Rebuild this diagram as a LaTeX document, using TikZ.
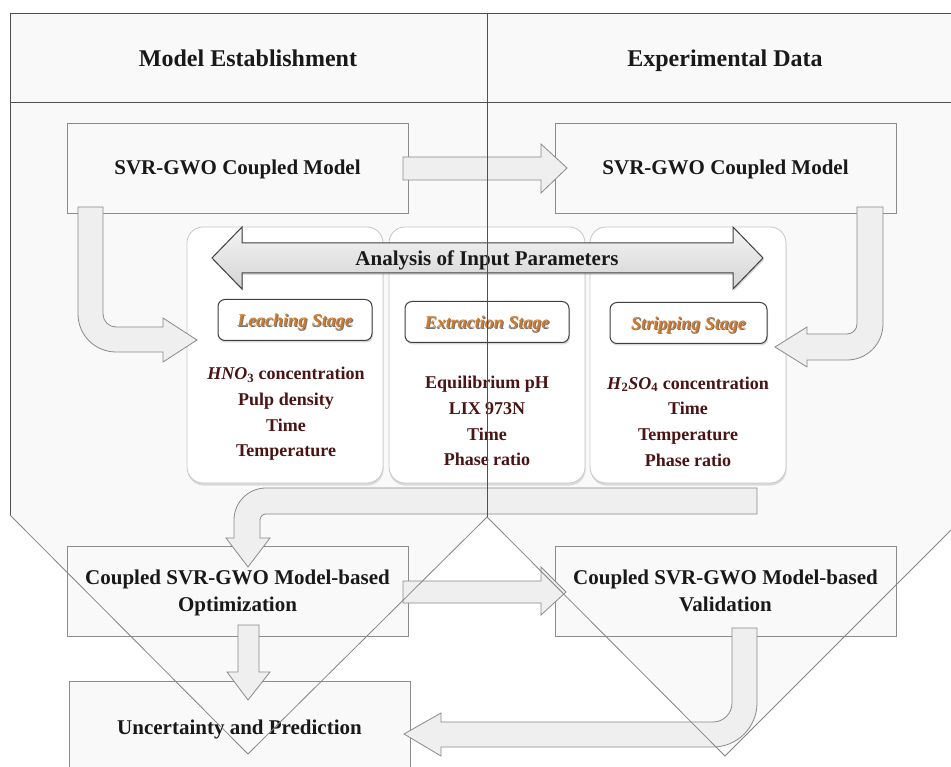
\documentclass[tikz,border=0pt]{standalone}
\usepackage{fontspec}
\setmainfont{Liberation Serif}
\usetikzlibrary{shadows}
\definecolor{bgfill}{HTML}{F9F9F9}
\definecolor{boxline}{HTML}{8C8C8C}
\definecolor{arrfill}{HTML}{EFEFEF}
\definecolor{arrline}{HTML}{8A8A8A}
\definecolor{frameline}{HTML}{505050}
\definecolor{diagline}{HTML}{858585}
\definecolor{parcol}{HTML}{4A1414}
\definecolor{stagecol}{HTML}{CF7B2E}
\newcommand\shtext[1]{\makebox[0pt][l]{\hspace{1pt}\raisebox{-1pt}{\color{black!55}#1}}{\color{stagecol}#1}}
\begin{document}
\begin{tikzpicture}[x=1pt,y=-1pt,
  box/.style={draw=boxline, fill=bgfill, line width=0.8pt, minimum width=341pt, minimum height=90pt, inner sep=0pt,
    font=\fontsize{21}{27}\selectfont\bfseries, align=center, text=black!90, text height=14pt, text depth=0pt},
  twoline/.style={text height=41pt, text depth=0pt},
  title/.style={font=\fontsize{24}{28}\selectfont\bfseries, text=black!90, text height=16pt, text depth=0pt},
  lbl/.style={font=\fontsize{21}{26}\selectfont\bfseries, align=center, text=black!90, text height=14pt, text depth=0pt},
  panel/.style={draw=black!22, fill=white, rounded corners=16pt, line width=0.8pt, minimum width=196pt, minimum height=256pt,
    drop shadow={opacity=0.25, shadow xshift=0.5pt, shadow yshift=-2.5pt}},
  stagebox/.style={draw=black!75, fill=white, rounded corners=7pt, line width=1pt, minimum height=41pt, inner sep=0pt,
    text height=13pt, text depth=0pt,
    drop shadow={opacity=0.3, shadow xshift=1pt, shadow yshift=-2pt}, font=\fontsize{18}{22}\selectfont\bfseries\itshape},
  params/.style={font=\fontsize{18}{25.7}\selectfont\bfseries, text=parcol, align=center},
  barrow/.style={fill=arrfill, draw=arrline, line width=0.8pt, line join=miter},
]
\useasboundingbox (0,0) rectangle (951,767);
\clip (0,0) rectangle (951,767);
\fill[white] (0,0) rectangle (951,767);
% background pentagons
\fill[bgfill] (10,13) -- (487,13) -- (487,517) -- (248,754) -- (10,515) -- cycle;
\fill[bgfill] (487,13) -- (963,13) -- (963,518) -- (725,756) -- (487,517) -- cycle;

% headers
\node[title] (h1) at (248,59) {Model Establishment};
\node[title] (h2) at (725,59) {Experimental Data};

% boxes
\node[box] (tl) at (237.5,168) {SVR-GWO Coupled Model};
\node[box] (tr) at (725.5,168) {SVR-GWO Coupled Model};
\node[box, twoline] (opt) at (237.5,591) {Coupled SVR-GWO Model-based\\Optimization};
\node[box, twoline] (val) at (725.5,591) {Coupled SVR-GWO Model-based\\Validation};
\node[box, minimum height=92pt] (unc) at (239.5,727) {Uncertainty and Prediction};

% panels
\node[panel] (p1) at (285,355) {};
\node[panel] (p2) at (487,355) {};
\node[panel] (p3) at (688,355) {};

% stage boxes
\node[stagebox, minimum width=154pt] (s1) at (295,320) {\shtext{Leaching Stage}};
\node[stagebox, minimum width=164pt] (s2) at (487,322) {\shtext{Extraction Stage}};
\node[stagebox, minimum width=157pt] (s3) at (688.5,323) {\shtext{Stripping Stage}};

% parameters
\node[params] (l1) at (286,414) {\textit{HNO}\textsubscript{3} concentration\\Pulp density\\Time\\Temperature};
\node[params] (l2) at (487,421) {Equilibrium pH\\LIX 973N\\Time\\Phase ratio};
\node[params] (l3) at (688,421.5) {\textit{H}\textsubscript{2}\textit{SO}\textsubscript{4} concentration\\Time\\Temperature\\Phase ratio};

% double arrow
\path[draw=black!75, line width=1pt, line join=miter, top color=black!4, bottom color=black!17,
  drop shadow={opacity=0.3, shadow xshift=1pt, shadow yshift=-2pt}]
  (212,258) -- (242,227) -- (242,243) -- (733,243) -- (733,227) -- (763,258) -- (733,289) -- (733,273) -- (242,273) -- (242,289) -- cycle;
\node[lbl] (ana) at (487,259) {Analysis of Input Parameters};

% block arrows
\draw[barrow] (403,157) -- (541,157) -- (541,144) -- (567,168) -- (541,193) -- (541,180) -- (403,180) -- cycle;
\draw[barrow] (78,207) -- (78,314) arc[start angle=180, end angle=90, radius=38] -- (163,352) -- (163,362) -- (197,340)
  -- (163,318) -- (163,327) -- (116,327) arc[start angle=90, end angle=180, radius=13] -- (103,207) -- cycle;
\draw[barrow] (857,207) -- (883,207) -- (883,324) arc[start angle=0, end angle=90, radius=36] -- (807,360) -- (807,367)
  -- (775,347) -- (807,327) -- (807,334) -- (847,334) arc[start angle=90, end angle=0, radius=10] -- cycle;
\draw[barrow] (757,488) -- (266,488) arc[start angle=270, end angle=180, radius=32] -- (234,538) -- (226,538) -- (248,567)
  -- (270,538) -- (260,538) -- (260,520) arc[start angle=180, end angle=270, radius=6] -- (757,514) -- cycle;
\draw[barrow] (403,581) -- (541,581) -- (541,567) -- (566,592) -- (541,615) -- (541,603) -- (403,603) -- cycle;
\draw[barrow] (238,625) -- (259,625) -- (259,672) -- (270,672) -- (248,700) -- (227,672) -- (238,672) -- cycle;
\draw[barrow] (732,628) -- (757,628) -- (757,703) arc[start angle=0, end angle=90, radius=44] -- (441,747) -- (441,756)
  -- (404,734) -- (441,713) -- (441,722) -- (713,722) arc[start angle=90, end angle=0, radius=19] -- cycle;

% frame outlines on top
\draw[frameline, line width=0.9pt] (951,13) -- (10,13) -- (10,515);
\draw[frameline, line width=0.9pt] (10,102) -- (951,102);
\draw[frameline, line width=1pt] (487,13) -- (487,517);
\draw[diagline, line width=0.8pt] (10,515) -- (248,754) -- (487,517) -- (725,756) -- (963,518);
\end{tikzpicture}
\end{document}
